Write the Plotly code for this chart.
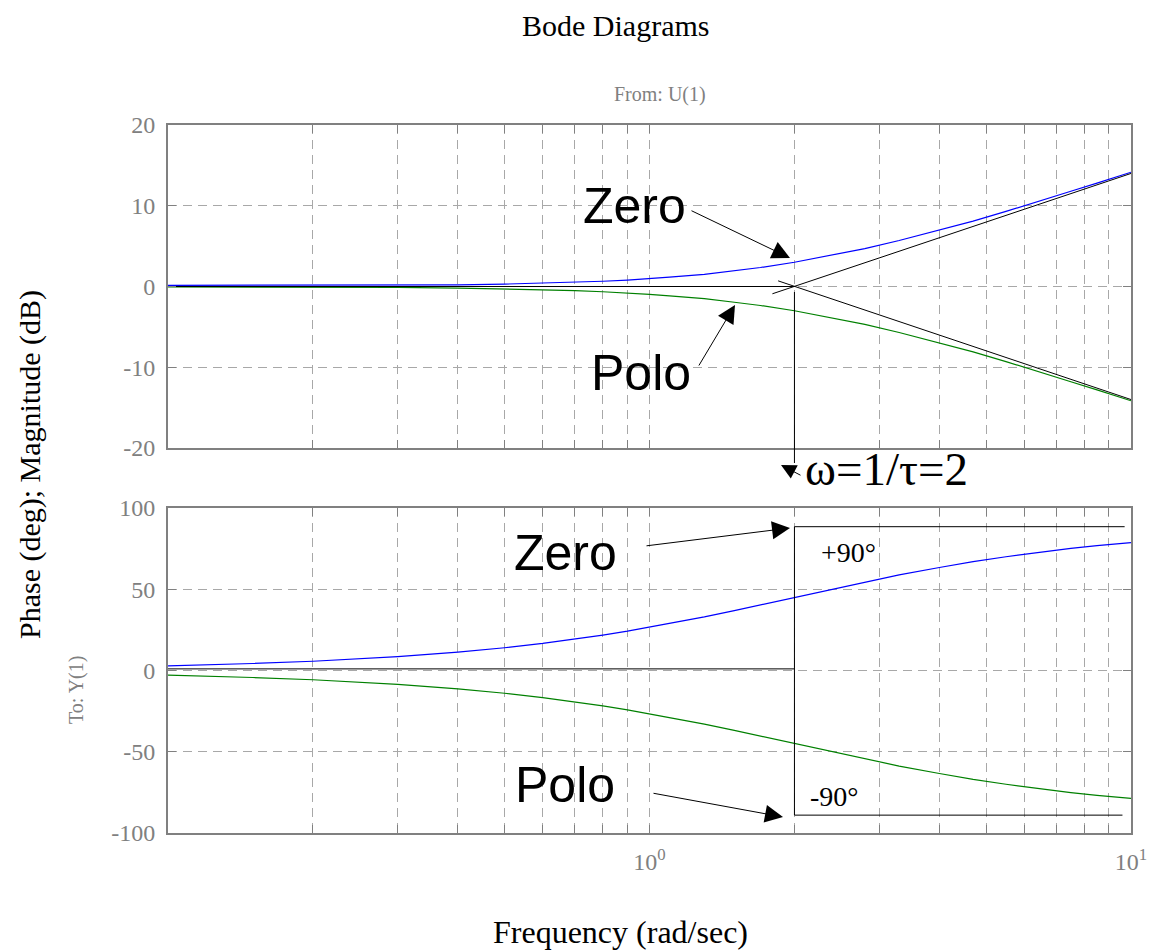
import numpy as np
import plotly.graph_objects as go
from plotly.subplots import make_subplots

# Frequency grid (rad/sec)
freq = [0.1, 0.12, 0.15, 0.2, 0.25, 0.3, 0.4, 0.5, 0.6, 0.7, 0.8, 0.9, 1.0,
        1.1, 1.3, 1.5, 1.7, 2.0, 2.4, 2.8, 3.3, 4.0, 4.7, 5.5, 6.5, 7.5, 8.5, 10.0]

# Magnitude (dB) of the zero and of the pole
mag_zero = [0.15, 0.15, 0.15, 0.15, 0.15, 0.15, 0.2, 0.3, 0.4, 0.5, 0.65, 0.8, 0.97,
            1.15, 1.5, 1.95, 2.35, 3.0, 3.9, 4.7, 5.7, 7.0, 8.1, 9.3, 10.6, 11.8, 12.8, 14.15]
mag_pole = [-0.05, -0.05, -0.05, -0.05, -0.1, -0.1, -0.2, -0.3, -0.4, -0.5, -0.65, -0.8, -0.97,
            -1.15, -1.5, -1.95, -2.35, -3.0, -3.9, -4.7, -5.7, -7.0, -8.1, -9.3, -10.6, -11.8, -12.8, -14.15]

# Phase (deg) of the zero and of the pole
phase_zero = [2.9, 3.4, 4.3, 5.7, 7.1, 8.5, 11.3, 14.0, 16.7, 19.3, 21.8, 24.2, 26.6,
              28.8, 33.0, 36.9, 40.4, 45.0, 50.2, 54.5, 58.8, 63.4, 67.0, 70.0, 72.9, 75.1, 76.8, 78.7]
phase_pole = [-2.9, -3.4, -4.3, -5.7, -7.1, -8.5, -11.3, -14.0, -16.7, -19.3, -21.8, -24.2, -26.6,
              -28.8, -33.0, -36.9, -40.4, -45.0, -50.2, -54.5, -58.8, -63.4, -67.0, -70.0, -72.9, -75.1, -76.8, -78.7]

# Straight-line asymptotes
corner = 2.0
asym_flat_f = [0.1, 2.0]
asym_flat_db = [0.0, 0.0]
asym_zero_f = [1.8, 10.0]
asym_zero_db = [-0.9, 14.0]
asym_pole_f = [1.85, 10.0]
asym_pole_db = [0.7, -14.0]

phase_flat_f = [0.1, 2.0]
phase_flat_deg = [1.0, 1.0]
phase_vert_f = [2.0, 2.0]
phase_vert_deg = [88.5, -89.0]
phase_up_f = [2.0, 9.7]
phase_up_deg = [88.5, 88.5]
phase_dn_f = [2.0, 9.6]
phase_dn_deg = [-89.0, -89.0]

# Axis ticks
x_tickvals = [0.2, 0.3, 0.4, 0.5, 0.6, 0.7, 0.8, 0.9, 1, 2, 3, 4, 5, 6, 7, 8, 9, 10]
x_ticktext = ["" if v not in (1, 10) else ("10<sup>0</sup>" if v == 1 else "10<sup>1</sup>")
              for v in x_tickvals]
mag_ticks = [-20, -10, 0, 10, 20]
phase_ticks = [-100, -50, 0, 50, 100]

SERIF = "Liberation Serif"
SANS = "Liberation Sans"
GRAY = "#808080"

# Pixel layout of the figure
W, H = 1150, 951
L, R, T, B = 168, 19, 125, 118
PW, PH = W - L - R, H - T - B


def px(x):
    return (x - L) / PW


def py(y):
    return (H - B - y) / PH


fig = make_subplots(rows=2, cols=1, shared_xaxes=False, vertical_spacing=0.0)

line_w = 1.2
fig.add_trace(go.Scatter(x=freq, y=mag_zero, mode="lines", line=dict(color="#0000ff", width=line_w)), row=1, col=1)
fig.add_trace(go.Scatter(x=freq, y=mag_pole, mode="lines", line=dict(color="#008000", width=line_w)), row=1, col=1)
for fx, fy in [(asym_flat_f, asym_flat_db), (asym_zero_f, asym_zero_db), (asym_pole_f, asym_pole_db)]:
    fig.add_trace(go.Scatter(x=fx, y=fy, mode="lines", line=dict(color="black", width=1)), row=1, col=1)

fig.add_trace(go.Scatter(x=freq, y=phase_zero, mode="lines", line=dict(color="#0000ff", width=line_w)), row=2, col=1)
fig.add_trace(go.Scatter(x=freq, y=phase_pole, mode="lines", line=dict(color="#008000", width=line_w)), row=2, col=1)
for fx, fy in [(phase_flat_f, phase_flat_deg), (phase_vert_f, phase_vert_deg),
               (phase_up_f, phase_up_deg), (phase_dn_f, phase_dn_deg)]:
    fig.add_trace(go.Scatter(x=fx, y=fy, mode="lines", line=dict(color="black", width=1)), row=2, col=1)

axis_common = dict(
    showline=True, linecolor=GRAY, linewidth=2, mirror="ticks",
    ticks="inside", ticklen=8, tickcolor=GRAY, tickwidth=1,
    showgrid=True, gridcolor="#a8a8a8", gridwidth=1, griddash="9px,6px",
    zeroline=False, automargin=False,
)

top_dom = [py(448), 1.0]
bot_dom = [0.0, py(508)]

fig.update_xaxes(type="log", range=[-1, 1], tickvals=x_tickvals, ticktext=x_ticktext,
                 tickfont=dict(family=SERIF, size=24, color=GRAY), ticklabelstandoff=6,
                 **axis_common)
fig.update_xaxes(showticklabels=False, row=1, col=1)
fig.update_yaxes(range=[-20, 20], tickvals=mag_ticks, ticktext=[str(v) for v in mag_ticks],
                 tickfont=dict(family=SERIF, size=24, color=GRAY), domain=top_dom,
                 ticklabelstandoff=6, **axis_common, row=1, col=1)
fig.update_yaxes(range=[-100, 100], tickvals=phase_ticks, ticktext=[str(v) for v in phase_ticks],
                 tickfont=dict(family=SERIF, size=24, color=GRAY), domain=bot_dom,
                 ticklabelstandoff=6, **axis_common, row=2, col=1)

# Vertical marker at the corner frequency, running below the magnitude plot
fig.add_shape(type="line", xref="x", yref="paper", x0=corner, x1=corner,
              y0=py(292), y1=py(463), line=dict(color="black", width=1))

annotations = [
    dict(text="Bode Diagrams", x=px(615), y=py(25), font=dict(family=SERIF, size=30, color="black")),
    dict(text="From: U(1)", x=px(660), y=py(95), font=dict(family=SERIF, size=20, color=GRAY)),
    dict(text="Phase (deg); Magnitude (dB)", x=px(30), y=py(465), textangle=-90,
         font=dict(family=SERIF, size=30, color="black")),
    dict(text="To: Y(1)", x=px(76), y=py(690), textangle=-90, font=dict(family=SERIF, size=20, color=GRAY)),
    dict(text="Frequency (rad/sec)", x=px(620), y=py(932), font=dict(family=SERIF, size=32, color="black")),
    dict(text="Zero", x=px(634), y=py(206), font=dict(family=SANS, size=50, color="black")),
    dict(text="Polo", x=px(641), y=py(373), font=dict(family=SANS, size=50, color="black")),
    dict(text="Zero", x=px(565), y=py(553), font=dict(family=SANS, size=50, color="black")),
    dict(text="Polo", x=px(565), y=py(785), font=dict(family=SANS, size=50, color="black")),
    dict(text="ω=1/τ=2", x=px(803), y=py(469), xanchor="left", font=dict(family=SERIF, size=47, color="black")),
    dict(text="+90°", x=px(848), y=py(552), font=dict(family=SERIF, size=28, color="black")),
    dict(text="-90°", x=px(834), y=py(796), font=dict(family=SERIF, size=28, color="black")),
]
for a in annotations:
    a.setdefault("xanchor", "center")
    a.setdefault("yanchor", "middle")
    fig.add_annotation(xref="paper", yref="paper", showarrow=False, **a)

# Arrows: (tail pixel, tip pixel, head size)
arrows = [
    ((690, 210), (790, 258), 3.6),
    ((698, 367), (735, 305), 3.6),
    ((645, 546), (790, 528), 3.6),
    ((652, 793), (783, 817), 3.6),
    ((802, 476), (781, 465), 3.0),
]
for (tx, ty), (hx, hy), size in arrows:
    fig.add_annotation(xref="paper", yref="paper", x=px(hx), y=py(hy), ax=tx - hx, ay=ty - hy,
                       axref="pixel", ayref="pixel", text="", showarrow=True,
                       arrowhead=2, arrowsize=size, arrowwidth=1, arrowcolor="black")

fig.update_layout(
    width=W, height=H, showlegend=False,
    margin=dict(l=L, r=R, t=T, b=B),
    plot_bgcolor="white", paper_bgcolor="white",
)

fig.write_html("out.html")
